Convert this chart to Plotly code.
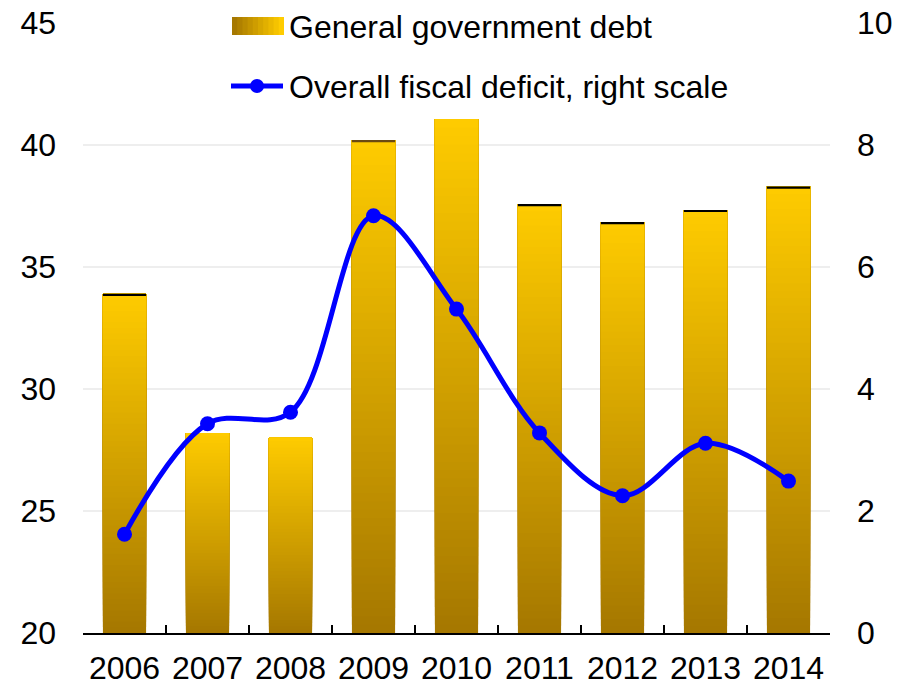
import plotly.graph_objects as go

# Data
years = ["2006", "2007", "2008", "2009", "2010", "2011", "2012", "2013", "2014"]
debt = [33.9, 28.2, 28.0, 40.2, 41.07, 37.58, 36.84, 37.34, 38.3]
deficit = [1.62, 3.43, 3.62, 6.84, 5.31, 3.28, 2.25, 3.11, 2.49]
left_ticks = [20, 25, 30, 35, 40, 45]
right_ticks = [0, 2, 4, 6, 8, 10]

# Styling
FONT = "Liberation Sans, Arial, sans-serif"
FS = 32
W, H = 905, 686
ML, MR, MT, MB = 83, 75, 23, 53
DARK = (166, 120, 0)
GOLD = (255, 204, 0)
N_SEG = 60
Y0 = 20


def mix(t):
    r = round(DARK[0] + (GOLD[0] - DARK[0]) * t)
    g = round(DARK[1] + (GOLD[1] - DARK[1]) * t)
    b = round(DARK[2] + (GOLD[2] - DARK[2]) * t)
    return f"rgb({r},{g},{b})"


fig = go.Figure()

# Bars with a vertical gradient: overlapping segments, each one starting a
# little higher and running to the bar's top, painted bottom to top.
for k in range(N_SEG):
    frac = k / N_SEG
    bases = [Y0 + (v - Y0) * frac for v in debt]
    lens = [(v - Y0) * (1 - frac) for v in debt]
    fig.add_trace(go.Bar(
        x=years, y=lens, base=bases, yaxis="y",
        marker=dict(color=mix(frac), line=dict(width=0)),
        showlegend=False, hoverinfo="skip",
    ))

# Thin dark caps on top of some bars
cap_colors = ["black", None, None, "#6b4a12", None, "black", "black", "black", "black"]
cap_h = 0.09
fig.add_trace(go.Bar(
    x=years,
    y=[cap_h if c else 0 for c in cap_colors],
    base=[v - cap_h for v in debt],
    marker=dict(color=[c or "rgba(0,0,0,0)" for c in cap_colors], line=dict(width=0)),
    showlegend=False, hoverinfo="skip",
))

# Fiscal deficit line on the right scale
fig.add_trace(go.Scatter(
    x=years, y=deficit, yaxis="y2", mode="lines+markers",
    line=dict(color="#0000FF", width=5, shape="spline", smoothing=1.0),
    marker=dict(color="#0000FF", size=15),
    showlegend=False,
))

pw = W - ML - MR
ph = H - MT - MB


def px(x):
    return (x - ML) / pw


def py(y):
    return (H - MB - y) / ph


# Hand-built legend
shapes = []
n_band = 10
x0, x1, ya, yb = 232, 284, 17, 35
step = (x1 - x0) / n_band
for i in range(n_band):
    shapes.append(dict(
        type="rect", xref="paper", yref="paper",
        x0=px(x0 + step * i), x1=px(min(x1, x0 + step * (i + 1) + 1)),
        y0=py(yb), y1=py(ya), line=dict(width=0),
        fillcolor=mix(i / (n_band - 1)), layer="above",
    ))
shapes.append(dict(type="line", xref="paper", yref="paper",
                   x0=px(231), x1=px(283), y0=py(86), y1=py(86),
                   line=dict(color="#0000FF", width=5), layer="above"))
shapes.append(dict(type="circle", xref="paper", yref="paper",
                   x0=px(250), x1=px(264), y0=py(93), y1=py(79),
                   fillcolor="#0000FF", line=dict(width=0), layer="above"))

annotations = [
    dict(text="General government debt", xref="paper", yref="paper",
         x=px(287), y=py(27), xanchor="left", yanchor="middle", showarrow=False,
         font=dict(family=FONT, size=FS, color="black")),
    dict(text="Overall fiscal deficit, right scale", xref="paper", yref="paper",
         x=px(287), y=py(87), xanchor="left", yanchor="middle", showarrow=False,
         font=dict(family=FONT, size=FS, color="black")),
]

fig.update_layout(
    width=W, height=H,
    margin=dict(l=ML, r=MR, t=MT, b=MB, pad=0, autoexpand=False),
    paper_bgcolor="white", plot_bgcolor="white",
    barmode="overlay", bargap=0.48,
    font=dict(family=FONT, size=FS, color="black"),
    shapes=shapes, annotations=annotations,
    xaxis=dict(
        type="category", showgrid=False, showline=True, linecolor="black",
        linewidth=2, ticks="inside", tickson="boundaries", ticklen=8,
        tickwidth=2, tickcolor="black", ticklabelstandoff=6, automargin=False,
        tickfont=dict(family=FONT, size=FS, color="black"),
        range=[-0.5, 8.5],
    ),
    yaxis=dict(
        range=[Y0, 45], tickvals=left_ticks, showgrid=True, gridcolor="#EEEEEE",
        gridwidth=1.5, zeroline=False, showline=False, ticks="",
        ticklabelstandoff=26, automargin=False,
        tickfont=dict(family=FONT, size=FS, color="black"),
    ),
    yaxis2=dict(
        range=[0, 10], tickvals=right_ticks, overlaying="y", side="right",
        showgrid=False, zeroline=False, showline=False, ticks="",
        ticklabelstandoff=26, automargin=False,
        tickfont=dict(family=FONT, size=FS, color="black"),
    ),
)

fig.write_html("out.html")
